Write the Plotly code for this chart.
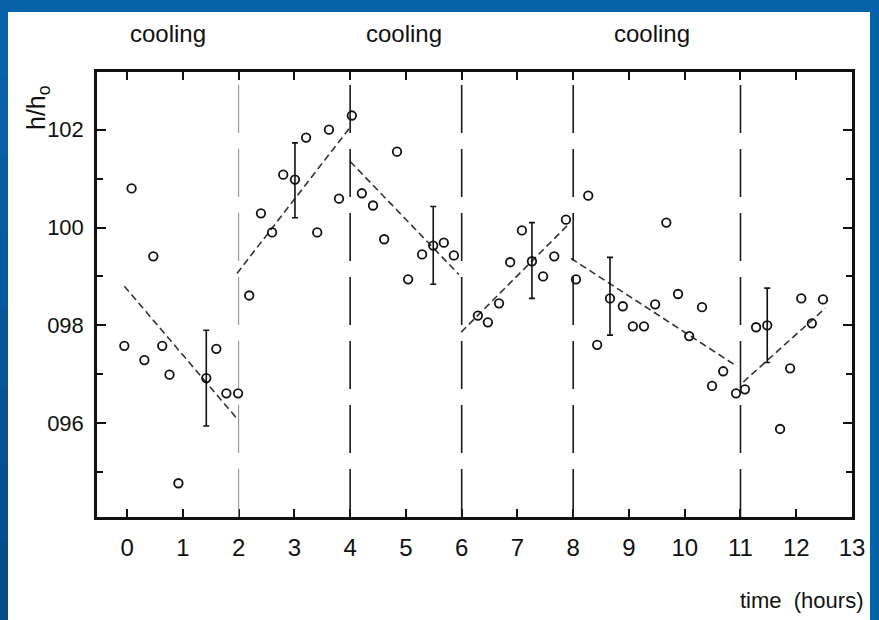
import plotly.graph_objects as go

# ---------------- data (h/h0 in percent units, time in hours) ----------------
point_t = [-0.05, 0.08, 0.31, 0.47, 0.63, 0.76, 0.92, 1.60, 1.78, 1.99,
           2.19, 2.40, 2.60, 2.80, 3.21, 3.41, 3.62, 3.80, 4.03,
           4.21, 4.41, 4.61, 4.84, 5.04, 5.29, 5.68, 5.86,
           6.29, 6.47, 6.67, 6.87, 7.08, 7.46, 7.66, 7.87,
           8.05, 8.27, 8.43, 8.89, 9.07, 9.27, 9.47, 9.67, 9.88, 10.08, 10.31, 10.49, 10.69, 10.92,
           11.08, 11.28, 11.71, 11.89, 12.09, 12.28, 12.48]
point_h = [97.58, 100.80, 97.29, 99.41, 97.58, 96.99, 94.77, 97.52, 96.61, 96.61,
           98.61, 100.29, 99.90, 101.08, 101.84, 99.90, 102.00, 100.59, 102.29,
           100.70, 100.45, 99.76, 101.55, 98.94, 99.45, 99.69, 99.43,
           98.20, 98.06, 98.45, 99.29, 99.94, 99.00, 99.41, 100.16,
           98.94, 100.65, 97.60, 98.39, 97.98, 97.98, 98.43, 100.10, 98.64, 97.78, 98.37, 96.76, 97.06, 96.61,
           96.69, 97.96, 95.88, 97.12, 98.55, 98.04, 98.53]

err_t = [1.42, 3.01, 5.49, 7.26, 8.66, 11.48]
err_h = [96.92, 100.98, 99.63, 99.31, 98.55, 98.00]
err_low = [95.94, 100.20, 98.84, 98.55, 97.80, 97.24]
err_high = [97.90, 101.73, 100.43, 100.10, 99.39, 98.76]

fit_t0 = [-0.05, 1.97, 4.00, 5.99, 7.96, 11.05]
fit_h0 = [98.80, 99.06, 101.35, 97.86, 99.37, 96.84]
fit_t1 = [1.95, 4.00, 5.95, 7.93, 10.94, 12.52]
fit_h1 = [96.12, 102.05, 99.04, 100.08, 97.16, 98.35]

boundaries = [2, 4, 6, 8, 11]
boundary_colors = ["#8a8a8a", "#1a1a1a", "#1a1a1a", "#1a1a1a", "#1a1a1a"]
boundary_widths = [1.0, 1.6, 1.6, 1.6, 1.6]
cooling_t = [0.74, 4.97, 9.41]
cooling_labels = ["cooling", "cooling", "cooling"]

y_ticks = [96, 98, 100, 102]
y_ticktext = ["096", "098", "100", "102"]
x_ticks = list(range(0, 14))

FONT = "Liberation Sans, Arial, Helvetica, sans-serif"
INK = "#111111"

fig = go.Figure()

# fitted dashed lines
fx, fy = [], []
for a, b, c, d in zip(fit_t0, fit_h0, fit_t1, fit_h1):
    fx += [a, c, None]
    fy += [b, d, None]
fig.add_trace(go.Scatter(x=fx, y=fy, mode="lines",
                         line=dict(color="#333333", width=1.6, dash="7px,4px"),
                         showlegend=False, hoverinfo="skip"))

# plain points
fig.add_trace(go.Scatter(x=point_t, y=point_h, mode="markers",
                         marker=dict(symbol="circle-open", size=8.5, color=INK,
                                     line=dict(width=1.8, color=INK)),
                         showlegend=False))

# points with error bars
fig.add_trace(go.Scatter(
    x=err_t, y=err_h, mode="markers",
    marker=dict(symbol="circle-open", size=8.5, color=INK,
                line=dict(width=1.8, color=INK)),
    error_y=dict(type="data", symmetric=False,
                 array=[hi - v for hi, v in zip(err_high, err_h)],
                 arrayminus=[v - lo for lo, v in zip(err_low, err_h)],
                 color=INK, thickness=1.6, width=3),
    showlegend=False))

# vertical cooling/heating boundaries
for b, col, w in zip(boundaries, boundary_colors, boundary_widths):
    fig.add_shape(type="line", xref="x", yref="paper", x0=b, x1=b, y0=0, y1=1,
                  line=dict(color=col, width=w, dash="48px,16px"))


# white page over the blue frame (pixel positions converted to paper units)
def px_x(p):
    return (p - 97) / 755


def px_y(p):
    return (517 - p) / 445


# slight gradient on the left blue band
band_cols = ["#0862aa", "#0760a7", "#065da3", "#055a9e", "#045699", "#035294", "#034e8e", "#024a88"]
n = len(band_cols)
for i, c in enumerate(band_cols):
    fig.add_shape(type="rect", xref="paper", yref="paper", layer="below",
                  x0=px_x(0), x1=px_x(8),
                  y0=px_y(620 * (i + 1) / n + 1), y1=px_y(620 * i / n),
                  fillcolor=c, line=dict(width=0))

fig.add_shape(type="rect", xref="paper", yref="paper", layer="below",
              x0=px_x(8), x1=px_x(870), y0=px_y(640), y1=px_y(12),
              fillcolor="white", line=dict(width=0))

for t, lab in zip(cooling_t, cooling_labels):
    fig.add_annotation(x=t, y=px_y(33), xref="x", yref="paper", text=lab,
                       xanchor="center", yanchor="middle",
                       showarrow=False, font=dict(family=FONT, size=24, color=INK))

fig.add_annotation(x=px_x(38), y=px_y(108), xref="paper", yref="paper",
                   text="h/h<sub>o</sub>", textangle=-90, showarrow=False,
                   xanchor="center", yanchor="middle",
                   font=dict(family=FONT, size=25, color=INK))
fig.add_annotation(x=px_x(801), y=px_y(600), xref="paper", yref="paper",
                   text="time  (hours)", showarrow=False,
                   xanchor="center", yanchor="middle",
                   font=dict(family=FONT, size=22, color=INK))

fig.update_xaxes(range=[-0.54, 13.0], tickmode="array", tickvals=x_ticks,
                 ticks="inside", ticklen=8, tickwidth=1.5, tickcolor=INK,
                 showline=True, linewidth=2.5, linecolor=INK, mirror="ticks",
                 showgrid=False, zeroline=False,
                 tickfont=dict(family=FONT, size=24, color=INK),
                 ticklabelstandoff=7)
fig.update_yaxes(range=[94.08, 103.18], tickmode="array", tickvals=y_ticks,
                 ticktext=y_ticktext,
                 ticks="inside", ticklen=9, tickwidth=1.5, tickcolor=INK,
                 minor=dict(ticks="inside", ticklen=6, tickwidth=1.5, tickcolor=INK,
                            tickvals=[95, 97, 99, 101]),
                 showline=True, linewidth=2.5, linecolor=INK, mirror="ticks",
                 showgrid=False, zeroline=False,
                 tickfont=dict(family=FONT, size=22, color=INK),
                 ticklabelstandoff=6)

fig.update_layout(width=879, height=620,
                  margin=dict(l=97, r=27, t=72, b=103),
                  paper_bgcolor="#0561a8", plot_bgcolor="white",
                  showlegend=False)

fig.write_html("out.html", config={"displayModeBar": False},
               post_script="document.body.style.margin='0';")
